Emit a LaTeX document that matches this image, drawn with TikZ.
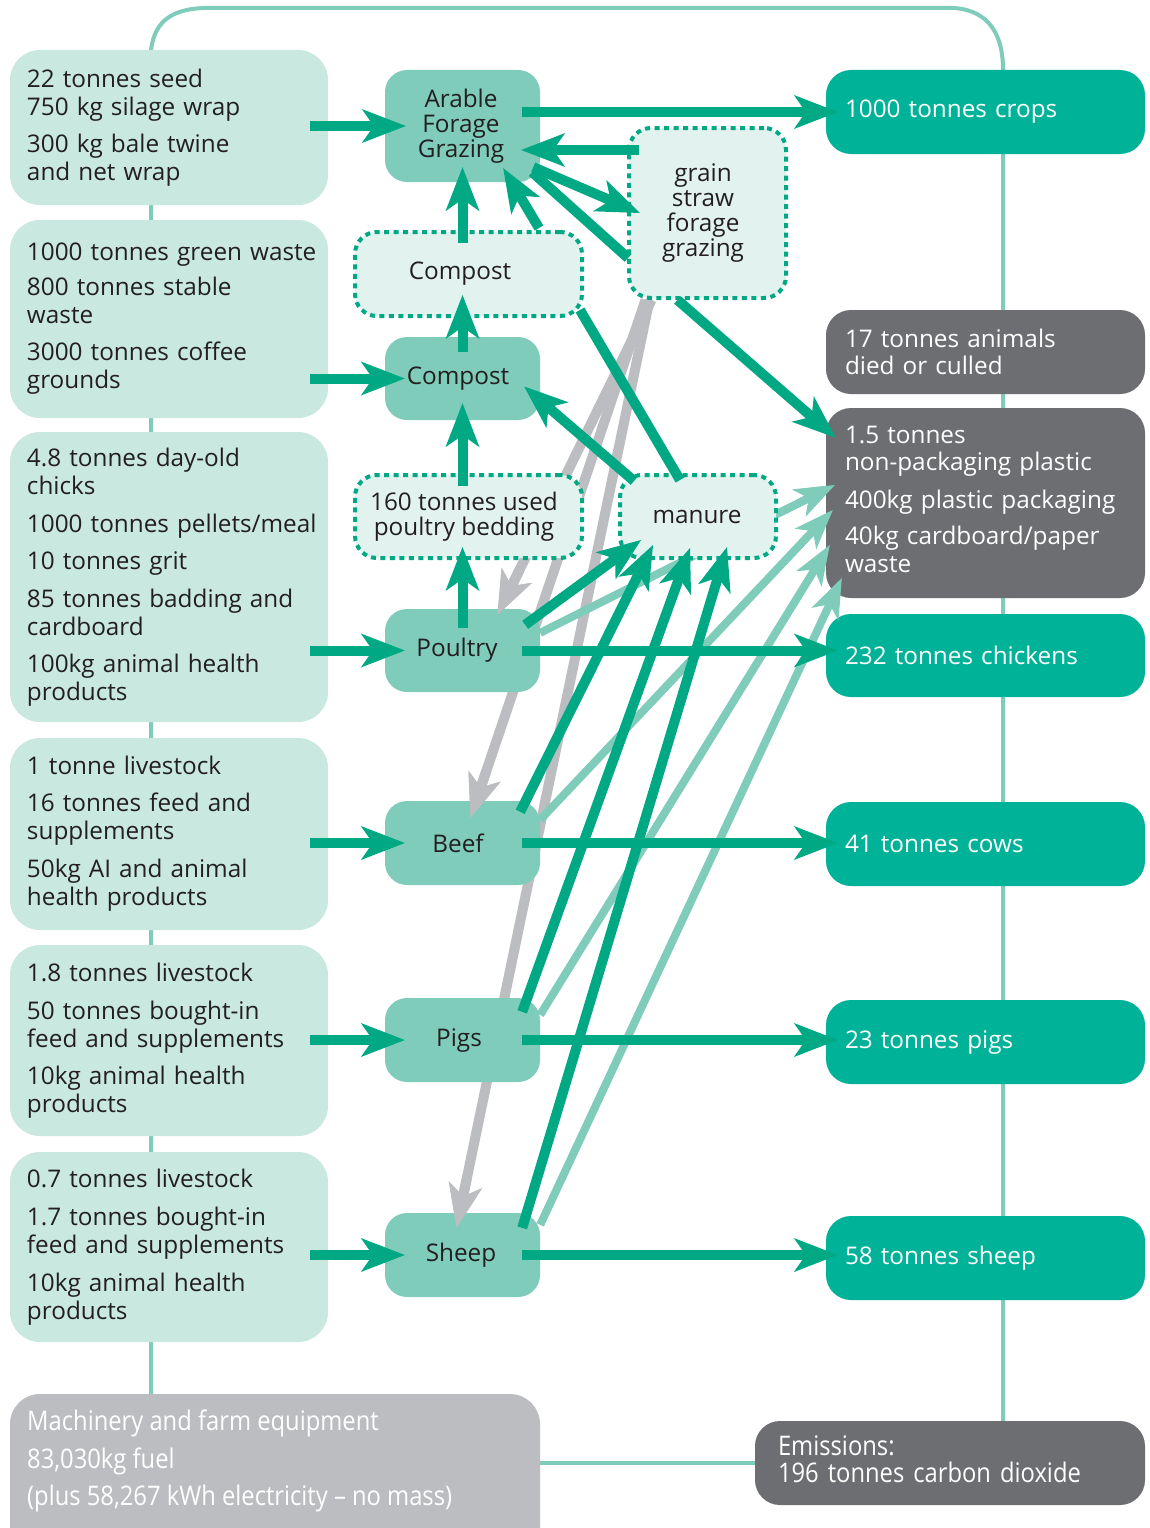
\documentclass[tikz,border=0pt]{standalone}
\usepackage{fontspec}
\setmainfont{Open Sans}
\newfontfamily\condfont{Open Sans}[FakeStretch=0.88]
\usetikzlibrary{arrows.meta,calc}
\pgfdeclarelayer{back}
\pgfsetlayers{back,main}
\definecolor{dteal}{RGB}{0,168,132}
\definecolor{bteal}{RGB}{0,179,152}
\definecolor{mteal}{RGB}{127,204,186}
\definecolor{lmint}{RGB}{201,232,224}
\definecolor{dotfill}{RGB}{226,242,239}
\definecolor{dgray}{RGB}{109,110,113}
\definecolor{lgray}{RGB}{188,189,192}
\definecolor{ink}{RGB}{35,31,32}
\newcommand{\txl}[1]{\mbox{#1}}
\newcommand{\mainsz}{\fontsize{24.3}{28}\selectfont}
\newcommand{\midsz}{\fontsize{24.3}{25}\selectfont}
\newcommand{\rsz}{\fontsize{24.3}{27.5}\selectfont}
\newcommand{\condsz}{\condfont\fontsize{27}{27}\selectfont}
\begin{document}
\begin{tikzpicture}[x=1pt,y=-1pt,
  leftbox/.style={fill=lmint, rounded corners=30pt, minimum width=318pt, text width=284pt, inner xsep=17pt, inner ysep=0pt, align=left, text=ink, font=\mainsz},
  midbox/.style={fill=mteal, rounded corners=22pt, minimum width=155pt, minimum height=83pt, inner sep=0pt, align=center, text=ink, font=\midsz},
  dotbox/.style={fill=dotfill, draw=dteal, line width=4pt, dash pattern=on 5pt off 4.5pt, rounded corners=22pt, inner sep=0pt, align=center, text=ink, font=\midsz},
  outbox/.style={fill=bteal, rounded corners=25pt, minimum width=319pt, minimum height=84pt, text width=281pt, inner xsep=19pt, inner ysep=0pt, align=left, text=white, font=\rsz},
  lossbox/.style={outbox, fill=dgray},
  frameline/.style={draw=mteal, line width=4pt},
  darr/.style={draw=dteal, line width=10pt, -{Stealth[length=44pt,width=34pt,inset=12pt,line width=0pt]}},
  dline/.style={draw=dteal, line width=10pt},
  garr/.style={draw=lgray, line width=10pt, -{Stealth[length=44pt,width=34pt,inset=12pt,line width=0pt]}},
  larr/.style={draw=mteal, line width=8pt, -{Stealth[length=40pt,width=30pt,inset=11pt,line width=0pt]}}
]
\useasboundingbox (0,0) rectangle (1150,1528);

% ---------- left input boxes
\node[leftbox, minimum height=155pt] (in1) at (169,127.5)
 {\txl{22 tonnes seed}\\\txl{750 kg silage wrap}\\[9pt]\txl{300 kg bale twine}\\\txl{and net wrap}};
\node[leftbox, minimum height=198pt] (in2) at (169,319)
 {\txl{1000 tonnes green waste}\\[7pt]\txl{800 tonnes stable}\\waste\\[9pt]\txl{3000 tonnes coffee}\\grounds};
\node[leftbox, minimum height=290pt] (in3) at (169,577)
 {\txl{4.8 tonnes day-old}\\chicks\\[10pt]\txl{1000 tonnes pellets/meal}\\[9pt]\txl{10 tonnes grit}\\[10pt]\txl{85 tonnes badding and}\\cardboard\\[9pt]\txl{100kg animal health}\\products};
\node[leftbox, minimum height=192pt] (in4) at (169,834)
 {\txl{1 tonne livestock}\\[9pt]\txl{16 tonnes feed and}\\supplements\\[10pt]\txl{50kg AI and animal}\\\txl{health products}};
\node[leftbox, minimum height=191pt] (in5) at (169,1040.5)
 {\txl{1.8 tonnes livestock}\\[10pt]\txl{50 tonnes bought-in}\\\txl{feed and supplements}\\[9pt]\txl{10kg animal health}\\products};
\node[leftbox, minimum height=190pt] (in6) at (169,1247)
 {\txl{0.7 tonnes livestock}\\[10pt]\txl{1.7 tonnes bought-in}\\\txl{feed and supplements}\\[10pt]\txl{10kg animal health}\\products};

% machinery and emissions
\node[fill=lgray, rounded corners=30pt, minimum width=530pt, minimum height=166pt, inner sep=0pt] (mach) at (275,1477) {};
\node[anchor=west, align=left, text=white, inner sep=0pt, font=\condfont\fontsize{27}{37.5}\selectfont] (macht) at (27,1461)
 {Machinery and farm equipment\\83,030kg fuel\\(plus 58,267 kWh electricity – no mass)};
\node[fill=dgray, rounded corners=25pt, minimum width=390pt, minimum height=84pt, text width=344pt, inner xsep=23pt, inner ysep=0pt, align=left, text=white, font=\condsz] (emis) at (950,1463)
 {Emissions:\\\txl{196 tonnes carbon dioxide}\\[-20pt]\mbox{}};

% ---------- middle boxes
\node[midbox, minimum height=112pt] (arable) at (462.5,126) {\kern-3pt Arable\\\kern-3pt Forage\\\kern-3pt Grazing};
\node[midbox] (compost) at (462.5,378.5) {\kern-9pt Compost};
\node[midbox] (poultry) at (462.5,650.5) {\kern-11pt Poultry};
\node[midbox, minimum height=84pt] (beef) at (462.5,843) {\kern-9pt Beef};
\node[midbox, minimum height=84pt] (pigs) at (462.5,1040) {\kern-7pt Pigs};
\node[midbox, minimum height=84pt] (sheep) at (462.5,1255) {\kern-3pt Sheep};

\node[dotbox, minimum width=227pt, minimum height=84pt] (compostd) at (468.5,274) {\kern-17pt Compost};
\node[dotbox, minimum width=227pt, minimum height=83pt] (bedding) at (468.5,516.5) {\kern-9pt 160 tonnes used\\\kern-9pt poultry bedding};
\node[dotbox, minimum width=156pt, minimum height=83pt] (manure) at (698,516.5) {\kern-2pt manure};
\node[dotbox, minimum width=157pt, minimum height=170pt] (grain) at (707.5,213) {\kern-9pt grain\\\kern-9pt straw\\\kern-9pt forage\\\kern-9pt grazing};

% ---------- right output boxes
\node[outbox] (crops) at (985.5,112) {1000 tonnes crops};
\node[lossbox] (died) at (985.5,352) {\txl{17 tonnes animals}\\died or culled};
\node[lossbox, minimum height=190pt] (waste) at (985.5,503)
 {1.5 tonnes\\\txl{non-packaging plastic}\\[10pt]\txl{400kg plastic packaging}\\[9pt]\txl{40kg cardboard/paper}\\waste\\[-19.5pt]\mbox{}};
\node[outbox, minimum height=83pt] (chickens) at (985.5,655.5) {232 tonnes chickens};
\node[outbox] (cows) at (985.5,844) {41 tonnes cows};
\node[outbox] (opigs) at (985.5,1042) {23 tonnes pigs};
\node[outbox] (osheep) at (985.5,1258) {58 tonnes sheep};

% ---------- background: frame, grey flows, hidden light flow
\begin{pgfonlayer}{back}
\fill[white] (0,0) rectangle (1150,1528);
\coordinate (fl) at ($(in1.north)+(-18,0)$);
\coordinate (fr) at ($(crops.north)+(17.5,0)$);
\draw[frameline] (fl|-mach.north) -- (fl) .. controls ($(fl)+(4,-30)$) and ($(fl)+(22,-42)$) .. ($(fl)+(60,-42)$)
  -- ($(fr)+(-55,-62)$) .. controls ($(fr)+(-18,-62)$) and ($(fr)+(0,-40)$) .. (fr) -- (fr|-emis.north);
\draw[frameline] (emis.west -| mach.east) -- (emis.west);

\coordinate (gs1) at ($(grain.south)+(-56,0)$);
\coordinate (gt1) at ($(poultry.north)+(35,6)$);
\coordinate (gs2) at ($(grain.south)+(-62,0)$);
\coordinate (gt2) at ($(beef.north)+(8,17)$);
\coordinate (gs3) at ($(grain.south)+(-58,0)$);
\coordinate (gt3) at ($(sheep.north)+(-6,15)$);
\draw[garr] (gs1) -- (gt1);
\draw[garr] (gs2) -- (gt2);
\draw[garr] (gs3) -- (gt3);

\coordinate (lp1) at ($(poultry.north east)+(0,24)$);
\coordinate (lw1) at ($(waste.west)+(9,-18)$);
\draw[larr] (lp1) -- (lw1);
\end{pgfonlayer}

% ---------- grey arrow heads on top of boxes
\draw[garr] ($(gt1)!50pt!(gs1)$) -- (gt1);
\draw[garr] ($(gt2)!50pt!(gs2)$) -- (gt2);
\draw[garr] ($(gt3)!50pt!(gs3)$) -- (gt3);

% ---------- light flows to waste
\draw[larr] ($(lw1)!62pt!(lp1)$) -- (lw1);
\draw[larr] ($(beef.north east)+(0,19)$) -- ($(waste.west)+(7,7)$);
\draw[larr] ($(pigs.north east)+(0,17)$) -- ($(waste.west)+(4,42)$);
\draw[larr] ($(sheep.north east)+(0,12)$) -- ($(waste.west)+(16,75)$);

% ---------- inputs
\draw[darr] ($(in1.east|-arable.west)+(-18,0)$) -- ($(arable.west)+(21,0)$);
\draw[darr] ($(in2.east|-compost.west)+(-18,0)$) -- ($(compost.west)+(20,0)$);
\draw[darr] ($(in3.east|-poultry.west)+(-18,0)$) -- ($(poultry.west)+(20,0)$);
\draw[darr] ($(in4.east|-beef.west)+(-18,0)$) -- ($(beef.west)+(20,0)$);
\draw[darr] ($(in5.east|-pigs.west)+(-18,0)$) -- ($(pigs.west)+(20,0)$);
\draw[darr] ($(in6.east|-sheep.west)+(-18,0)$) -- ($(sheep.west)+(20,0)$);

% ---------- outputs
\draw[darr] ($(arable.east|-crops.west)+(-18,0)$) -- ($(crops.west)+(12,0)$);
\draw[darr] ($(poultry.east)+(-18,0)$) -- ($(chickens.west|-poultry.east)+(12,0)$);
\draw[darr] ($(beef.east)+(-18,0)$) -- ($(cows.west|-beef.east)+(12,0)$);
\draw[darr] ($(pigs.east)+(-18,0)$) -- ($(opigs.west|-pigs.east)+(12,0)$);
\draw[darr] ($(sheep.east)+(-18,0)$) -- ($(osheep.west|-sheep.east)+(12,0)$);

% ---------- vertical internal flows
\draw[darr] ($(arable.south|-compostd.north)+(0,13)$) -- ($(arable.south)+(0,-15)$);
\draw[darr] ($(compost.north)+(0,15)$) -- ($(compost.north|-compostd.south)+(0,-23)$);
\draw[darr] ($(compost.south|-bedding.north)+(0,13)$) -- ($(compost.south)+(0,-17)$);
\draw[darr] ($(poultry.north)+(0,19)$) -- ($(poultry.north|-bedding.south)+(0,-13)$);

% ---------- arable / grain / compost / manure
\draw[darr] ($(grain.west|-arable.east)+(12,24)$) -- ($(arable.east)+(-19,24)$);
\draw[darr] ($(arable.south east)+(-7,-15)$) -- ($(grain.west)+(13,0)$);
\draw[dline] ($(arable.south east)+(-8,-10)$) -- ($(grain.west)+(1,45)$);
\draw[darr] ($(compostd.north east)+(-45,-2)$) -- ($(arable.south east)+(-37,-14)$);
\draw[dline] ($(compostd.south east)+(-4,-8)$) -- ($(manure.north)+(-18,7)$);
\draw[darr] ($(manure.north west)+(16,8)$) -- ($(compost.east)+(-16,8)$);
\draw[darr] ($(grain.south)+(-30,0)$) -- ($(waste.north west)+(10,30)$);

% ---------- animals to manure
\draw[darr] ($(poultry.north east)+(-15,16)$) -- ($(manure.south west)+(23,-20)$);
\draw[darr] ($(beef.north east)+(-20,11)$) -- ($(manure.south west)+(35,-15)$);
\draw[darr] ($(pigs.north east)+(-18,14)$) -- ($(manure.south)+(-8,-12)$);
\draw[darr] ($(sheep.north east)+(-18,15)$) -- ($(manure.south)+(29,-13)$);
\end{tikzpicture}
\end{document}
